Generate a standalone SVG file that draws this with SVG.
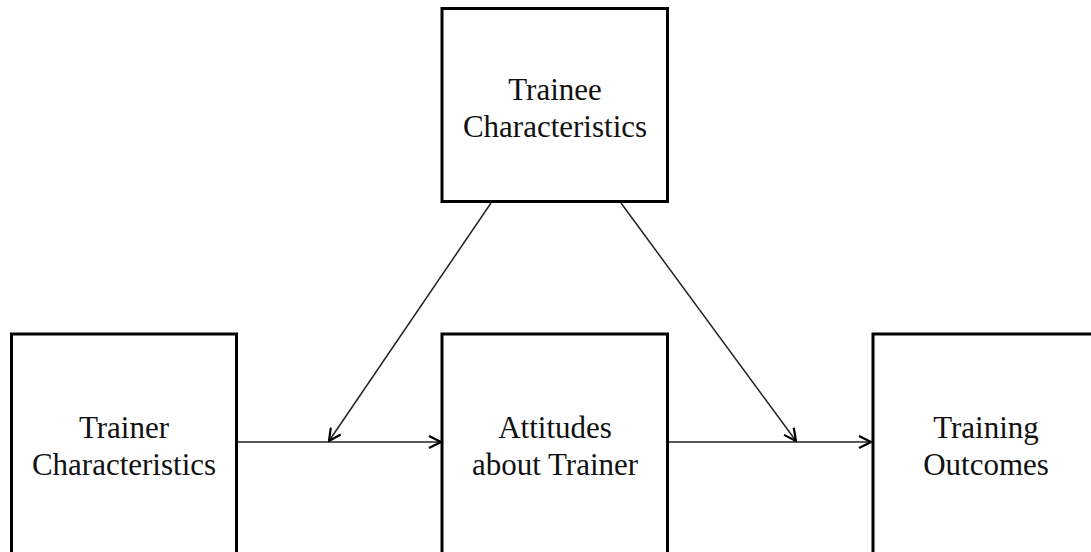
<svg xmlns="http://www.w3.org/2000/svg" width="1091" height="552" viewBox="0 0 1091 552">
<style>
.box{fill:#fff;stroke:#000;stroke-width:3}
.lbl{font-family:"Liberation Serif","Times New Roman",serif;font-size:31px;fill:#111;text-anchor:middle}
.edge{stroke:#222;stroke-width:1.5;fill:none}
</style>
<defs>
<marker id="arr" viewBox="0 0 14 14" refX="13" refY="7" markerWidth="14" markerHeight="14" markerUnits="userSpaceOnUse" orient="auto">
<path d="M1,1 L13,7 L1,13" fill="none" stroke="#000" stroke-width="2.2"/>
</marker>
</defs>
<rect width="1091" height="552" fill="#fff"/>
<g id="connectors">
<line class="edge" x1="237" y1="442" x2="441" y2="442" marker-end="url(#arr)"/>
<line class="edge" x1="668" y1="442" x2="871" y2="442" marker-end="url(#arr)"/>
<line class="edge" x1="491" y1="203" x2="329" y2="441" marker-end="url(#arr)"/>
<line class="edge" x1="621" y1="203" x2="796" y2="441" marker-end="url(#arr)"/>
</g>
<g id="trainee">
<rect class="box" x="442" y="8.5" width="225.5" height="193"/>
<text class="lbl" x="555" y="100">Trainee</text>
<text class="lbl" x="555" y="137">Characteristics</text>
</g>
<g id="trainer">
<rect class="box" x="11.5" y="334" width="225" height="230"/>
<text class="lbl" x="124" y="438">Trainer</text>
<text class="lbl" x="124" y="475">Characteristics</text>
</g>
<g id="attitudes">
<rect class="box" x="442" y="334" width="225.5" height="230"/>
<text class="lbl" x="555" y="438">Attitudes</text>
<text class="lbl" x="555" y="475">about Trainer</text>
</g>
<g id="outcomes">
<rect class="box" x="873" y="334" width="225.5" height="230"/>
<text class="lbl" x="986" y="438">Training</text>
<text class="lbl" x="986" y="475">Outcomes</text>
</g>
</svg>
